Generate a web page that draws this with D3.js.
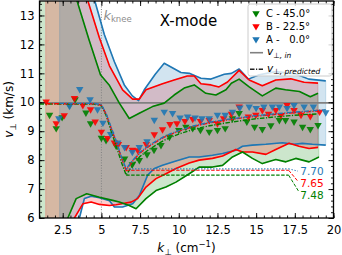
<!DOCTYPE html>
<html><head><meta charset="utf-8">
<script src="https://cdn.jsdelivr.net/npm/d3@7"></script>
<style>body{margin:0;background:#fff}svg{display:block}text{font-family:"DejaVu Sans",sans-serif}</style>
</head><body><svg id="c" width="342" height="255"></svg>
<script>
// ---------- data ----------
const seriesNames = ["C - 45.0°", "B - 22.5°", "A -\u00a0\u00a0\u00a00.0°"];
const seriesColors = ["#008000", "#ff0000", "#1f77b4"];
const xTicks = [2.5, 5, 7.5, 10, 12.5, 15, 17.5, 20];
const yTicks = [6, 7, 8, 9, 10, 11, 12, 13];
const vIn = 9.98;
const kKnee = 5;
const threshVals = [7.48, 7.65, 7.70];
const threshLabels = ["7.48", "7.65", "7.70"];
const threshRange = [6.6, 17.1];
const threshLabelPos = [[17.85, 6.8], [17.85, 7.2], [17.85, 7.61]];
const threshLeaderEnd = [[17.75, 6.92], [17.7, 7.27], [17.7, 7.62]];

const markersC = [[1.65,9.56],[2.08,9.1],[2.46,9.48],[2.94,9.9],[3.3,10.1],[4.0,9.64],[4.3,9.27],[5.0,8.77],[5.3,8.69],[5.95,8.5],[6.5,8.05],[7.0,7.85],[7.45,8.0],[7.95,8.2],[8.4,8.35],[8.85,8.52],[9.4,8.8],[10.0,9.04],[10.46,9.15],[10.9,9.1],[11.4,9.04],[11.97,8.98],[12.5,9.04],[13.0,9.1],[13.47,9.44],[13.9,9.62],[14.4,9.33],[14.9,9.15],[15.4,9.07],[15.95,9.2],[16.5,9.38],[16.9,9.38],[17.45,9.33],[18.0,9.15],[18.5,9.07],[19.0,9.21]];
const markersB = [[1.43,10.02],[2.08,9.27],[2.6,9.55],[3.26,10.14],[3.8,9.9],[4.3,9.75],[4.6,9.33],[5.0,8.98],[5.4,8.76],[5.84,8.6],[6.1,8.55],[6.6,8.45],[7.0,8.35],[7.35,8.34],[7.9,8.55],[8.42,8.89],[8.95,9.06],[9.43,9.24],[9.88,9.27],[10.4,9.35],[10.9,9.42],[11.4,9.35],[11.97,9.38],[12.5,9.27],[12.9,9.44],[13.4,9.6],[13.9,9.85],[14.5,9.5],[14.98,9.56],[15.4,9.73],[15.8,9.6],[16.27,9.73],[16.6,9.55],[17.0,9.9],[17.45,9.73],[17.9,9.56],[18.5,9.52],[19.1,9.67]];
const markersA = [[2.25,9.44],[2.94,9.87],[3.6,10.45],[4.27,10.1],[4.75,9.75],[5.1,9.29],[5.6,8.9],[6.05,8.6],[6.5,8.45],[7.0,8.28],[7.45,8.45],[7.95,8.65],[8.42,9.39],[9.06,9.67],[9.6,9.62],[10.08,9.47],[10.57,9.5],[11.05,9.47],[11.5,9.44],[11.97,9.44],[12.5,9.56],[13.0,9.56],[13.47,9.67],[13.95,9.81],[14.55,9.85],[15.0,9.8],[15.5,9.85],[16.05,9.85],[16.5,9.85],[17.0,9.8],[17.45,9.9],[18.1,9.85],[18.7,9.85],[19.5,9.65]];

const upperC = [[1,18],[2,16],[3.4,13.55],[4.2,12.16],[4.94,10.95],[5.5,10.6],[6.16,9.97],[6.8,9.44],[7.45,9.62],[8.3,9.85],[9.06,9.97],[9.7,10.25],[10.35,10.49],[11.0,10.6],[11.75,10.31],[12.4,10.25],[13.05,10.43],[13.4,10.66],[13.9,10.8],[14.55,10.53],[15.4,10.22],[16.27,10.49],[16.9,10.43],[17.8,10.37],[18.5,10.19],[19.0,10.31]];
const upperB = [[1.4,18],[2.5,16.5],[4.1,13.55],[4.87,12.23],[5.52,11.26],[6.37,10.43],[7.02,10.11],[7.45,10.11],[7.88,10.43],[8.95,10.64],[9.7,10.77],[10.55,10.91],[11.0,10.91],[11.43,10.64],[12.08,10.6],[12.6,10.53],[13.15,10.7],[13.9,11.1],[14.55,10.77],[15.4,10.57],[16.27,10.77],[17.24,10.81],[18.1,10.69],[19.0,10.66]];
const upperA = [[2.3,18],[3.5,15.5],[4.55,13.55],[5.19,12.34],[5.84,11.4],[6.48,10.6],[7.0,10.22],[7.4,10.06],[7.77,10.43],[8.48,10.97],[9.06,11.35],[10.14,11.03],[10.68,11.0],[11.43,10.83],[12.08,10.8],[12.94,10.97],[13.4,11.0],[13.9,11.15],[14.5,10.8],[15.2,10.95],[16.27,11.06],[17.56,10.98],[18.4,10.8],[19.5,10.74]];

const lowerC = [[1,4.5],[2.5,5.3],[2.83,6.0],[3.37,6.67],[4.05,6.84],[4.87,6.72],[5.73,6.61],[6.16,6.55],[6.8,6.43],[7.24,6.32],[7.88,6.67],[8.53,6.95],[9.17,7.07],[9.82,7.24],[10.68,7.53],[11.32,7.76],[12.18,7.76],[12.83,7.82],[13.47,8.11],[14.12,8.28],[14.76,8.06],[15.4,7.88],[16.27,8.02],[16.92,7.94],[17.56,8.06],[18.42,7.94],[19.06,8.11]];
const lowerB = [[1.4,4],[2.94,5.2],[3.26,6.0],[3.8,6.49],[4.34,6.55],[4.87,6.47],[5.52,6.43],[5.95,6.46],[6.92,6.55],[7.34,6.67],[7.88,7.07],[8.53,7.36],[9.17,7.53],[9.82,7.71],[10.68,7.9],[11.32,8.0],[12.18,8.06],[12.83,8.14],[13.69,8.37],[14.12,8.28],[14.76,8.28],[15.63,8.2],[16.27,8.37],[17.13,8.58],[17.77,8.48],[18.42,8.4],[19.0,8.44]];
const lowerA = [[2.3,4],[3.3,5.0],[3.58,6.0],[3.9,6.67],[4.34,6.75],[4.87,6.7],[5.52,6.6],[5.84,6.38],[6.37,6.38],[7.02,6.49],[7.45,6.78],[7.99,7.48],[8.42,7.71],[8.95,7.82],[9.82,7.97],[10.68,8.11],[11.32,8.11],[12.18,8.17],[12.83,8.23],[13.69,8.34],[14.12,8.48],[14.76,8.52],[15.63,8.55],[16.7,8.6],[17.45,8.55],[17.99,8.58],[18.63,8.55],[19.5,8.52]];

const predC = [[1.0,9.94],[4.5,9.94],[5.0,9.88],[5.3,9.55],[5.6,9.05],[6.0,8.42],[6.3,7.92],[6.6,7.48],[7.0,7.82],[7.5,8.13],[8.0,8.34],[8.5,8.51],[9.0,8.67],[9.5,8.79],[10,8.9],[11,9.07],[12,9.19],[13,9.28],[14,9.36],[15,9.43],[16,9.48],[17,9.53],[18,9.57],[19,9.6]];
const predB = [[1.4,9.95],[4.5,9.95],[5.0,9.9],[5.3,9.6],[5.6,9.15],[6.0,8.57],[6.3,8.07],[6.6,7.65],[7.0,7.95],[7.5,8.25],[8.0,8.45],[8.5,8.62],[9.0,8.78],[9.5,8.9],[10,9.0],[11,9.17],[12,9.29],[13,9.38],[14,9.45],[15,9.52],[16,9.57],[17,9.62],[18,9.66],[19,9.7]];
const predA = [[2.3,9.96],[4.5,9.96],[5.0,9.92],[5.3,9.62],[5.6,9.18],[6.0,8.6],[6.3,8.1],[6.6,7.70],[7.0,7.98],[7.5,8.28],[8.0,8.48],[8.5,8.65],[9.0,8.8],[9.5,8.92],[10,9.02],[11,9.19],[12,9.31],[13,9.4],[14,9.47],[15,9.54],[16,9.59],[17,9.64],[18,9.68],[19,9.72],[19.5,9.74]];

const uppers = [upperC, upperB, upperA];
const lowers = [lowerC, lowerB, lowerA];
const markers = [markersC, markersB, markersA];
const preds = [predC, predB, predA];
const threshDash = ["3.5,1.5", "3.5,1.5", "1.3,1.7"];

// ---------- layout ----------
const L = 39.5, R = 333.5, T = 1, B = 218;
const svg = d3.select("#c");
const x = d3.scaleLinear().domain([1, 20]).range([L, R]);
const y = d3.scaleLinear().domain([6, 13.5]).range([B, T]);
const line = d3.line().x(d => x(d[0])).y(d => y(d[1]));

svg.append("defs").append("clipPath").attr("id", "clip")
  .append("rect").attr("x", L).attr("y", T).attr("width", R - L).attr("height", B - T);
const g = svg.append("g").attr("clip-path", "url(#clip)");

// fills
uppers.forEach((u, i) => {
  const poly = u.concat(lowers[i].slice().reverse());
  g.append("path").attr("d", line(poly) + "Z")
    .attr("fill", seriesColors[i]).attr("fill-opacity", 0.2)
    .attr("stroke", seriesColors[i]).attr("stroke-opacity", 0.2).attr("stroke-width", 1);
});

// v_in line
g.append("path").attr("d", line([[1, vIn], [20, vIn]]))
  .attr("stroke", "#808080").attr("stroke-width", 1.6).attr("fill", "none");

// knee line
g.append("path").attr("d", line([[kKnee, 6], [kKnee, 13.5]]))
  .attr("stroke", "#808080").attr("stroke-width", 1).attr("stroke-dasharray", "1,1.6").attr("fill", "none");

// envelope lines
[2, 1, 0].forEach(i => {
  [uppers[i], lowers[i]].forEach(d => {
    g.append("path").attr("d", line(d)).attr("fill", "none")
      .attr("stroke", seriesColors[i]).attr("stroke-width", 1.6).attr("stroke-linejoin", "round");
  });
});

// markers
const tri = d3.symbol().type(d3.symbolTriangle).size(24);
[0, 1, 2].forEach(i => {
  g.selectAll(null).data(markers[i]).enter().append("path")
    .attr("d", tri)
    .attr("transform", d => `translate(${x(d[0])},${y(d[1])}) rotate(180)`)
    .attr("fill", seriesColors[i]).attr("fill-opacity", 0.9);
});

// predicted lines
[0, 1, 2].forEach(i => {
  g.append("path").attr("d", line(preds[i])).attr("fill", "none")
    .attr("stroke", seriesColors[i]).attr("stroke-width", 1.4)
    .attr("stroke-dasharray", "4.5,1.5,1.2,1.5");
});

// thresholds
[0, 1, 2].forEach(i => {
  g.append("path").attr("d", line([[threshRange[0], threshVals[i]], [threshRange[1], threshVals[i]]]))
    .attr("fill", "none").attr("stroke", seriesColors[i]).attr("stroke-width", 1.2)
    .attr("stroke-dasharray", threshDash[i]);
  g.append("path").attr("d", line([[threshRange[1], threshVals[i]], threshLeaderEnd[i]]))
    .attr("fill", "none").attr("stroke", seriesColors[i]).attr("stroke-width", 1)
    .attr("stroke-dasharray", threshDash[i]);
  svg.append("text").attr("x", x(threshLabelPos[i][0])).attr("y", y(threshLabelPos[i][1]))
    .attr("dy", "0.36em").attr("font-size", 10.5).attr("fill", seriesColors[i])
    .text(threshLabels[i]);
});

// knee label
const kt = svg.append("text").attr("x", x(kKnee) + 2).attr("y", 20).attr("fill", "#8c8c8c").attr("font-size", 13);
kt.append("tspan").attr("font-style", "italic").text("k");
kt.append("tspan").attr("font-size", 8.5).attr("dy", 2).text("knee");

// title
svg.append("text").attr("x", 188.5).attr("y", 26).attr("text-anchor", "middle")
  .attr("font-size", 15).text("X-mode");

// axes
function axisStyle(sel) {
  sel.select(".domain").remove();
  sel.selectAll("line").attr("stroke", "#000").attr("stroke-width", 0.9);
}
const xMinor = d3.range(1, 20.01, 0.5);
const yMinor = d3.range(6, 13.51, 0.2);
svg.append("g").attr("transform", `translate(0,${B})`)
  .call(d3.axisBottom(x).tickValues(xTicks).tickSize(-5).tickPadding(8).tickFormat(d => d))
  .call(axisStyle).call(s => s.selectAll("text").attr("font-size", 11.5).attr("font-family", "DejaVu Sans"));
svg.append("g").attr("transform", `translate(0,${B})`)
  .call(d3.axisBottom(x).tickValues(xMinor).tickSize(-2.5).tickFormat("")).call(axisStyle);
svg.append("g").attr("transform", `translate(0,${T})`)
  .call(d3.axisTop(x).tickValues(xTicks).tickSize(-5).tickFormat("")).call(axisStyle);
svg.append("g").attr("transform", `translate(0,${T})`)
  .call(d3.axisTop(x).tickValues(xMinor).tickSize(-2.5).tickFormat("")).call(axisStyle);
svg.append("g").attr("transform", `translate(${L},0)`)
  .call(d3.axisLeft(y).tickValues(yTicks).tickSize(-5).tickPadding(5).tickFormat(d => d))
  .call(axisStyle).call(s => s.selectAll("text").attr("font-size", 11.5).attr("font-family", "DejaVu Sans"));
svg.append("g").attr("transform", `translate(${L},0)`)
  .call(d3.axisLeft(y).tickValues(yMinor).tickSize(-2.5).tickFormat("")).call(axisStyle);
svg.append("g").attr("transform", `translate(${R},0)`)
  .call(d3.axisRight(y).tickValues(yTicks).tickSize(-5).tickFormat("")).call(axisStyle);
svg.append("g").attr("transform", `translate(${R},0)`)
  .call(d3.axisRight(y).tickValues(yMinor).tickSize(-2.5).tickFormat("")).call(axisStyle);

// frame
svg.append("rect").attr("x", L).attr("y", T).attr("width", R - L).attr("height", B - T)
  .attr("fill", "none").attr("stroke", "#000").attr("stroke-width", 1.3);

// axis labels
const xl = svg.append("text").attr("x", (L + R) / 2).attr("y", 252).attr("text-anchor", "middle").attr("font-size", 12);
xl.append("tspan").attr("font-style", "italic").text("k");
xl.append("tspan").attr("font-size", 8.5).attr("dy", 2.5).text("⊥");
xl.append("tspan").attr("dy", -2.5).text(" (cm");
xl.append("tspan").attr("font-size", 8.5).attr("dy", -5).text("−1");
xl.append("tspan").attr("dy", 5).text(")");

const yl = svg.append("text").attr("transform", `translate(13,${(T + B) / 2}) rotate(-90)`)
  .attr("text-anchor", "middle").attr("font-size", 12);
yl.append("tspan").attr("font-style", "italic").text("v");
yl.append("tspan").attr("font-size", 8.5).attr("dy", 2.5).text("⊥");
yl.append("tspan").attr("dy", -2.5).text(" (km/s)");

// legend
const lg = svg.append("g");
lg.append("rect").attr("x", 248).attr("y", 4).attr("width", 84).attr("height", 72).attr("rx", 2.5)
  .attr("fill", "#fff").attr("fill-opacity", 0.8).attr("stroke", "#cccccc").attr("stroke-width", 1);
const rowsY = [13.3, 26.3, 39.3];
[0, 1, 2].forEach(i => {
  lg.append("path").attr("d", tri).attr("transform", `translate(256,${rowsY[i]}) rotate(180)`)
    .attr("fill", seriesColors[i]);
  lg.append("text").attr("x", 266).attr("y", rowsY[i]).attr("dy", "0.35em").attr("font-size", 10)
    .text(seriesNames[i]);
});
lg.append("line").attr("x1", 250).attr("x2", 263).attr("y1", 52.7).attr("y2", 52.7)
  .attr("stroke", "#808080").attr("stroke-width", 1.6);
lg.append("line").attr("x1", 250).attr("x2", 263).attr("y1", 69.3).attr("y2", 69.3)
  .attr("stroke", "#222").attr("stroke-width", 1.5).attr("stroke-dasharray", "4.5,1.5,1.2,1.5");
const t1 = lg.append("text").attr("x", 267).attr("y", 53).attr("dy", "0.2em").attr("font-size", 10.5);
t1.append("tspan").attr("font-style", "italic").text("v");
t1.append("tspan").attr("font-style", "italic").attr("font-size", 7.5).attr("dy", 2.5).text("⊥, in");
const t2 = lg.append("text").attr("x", 267).attr("y", 69.5).attr("dy", "0.2em").attr("font-size", 10.5);
t2.append("tspan").attr("font-style", "italic").text("v");
t2.append("tspan").attr("font-style", "italic").attr("font-size", 7.5).attr("dy", 2.5).text("⊥, predicted");
</script></body></html>
